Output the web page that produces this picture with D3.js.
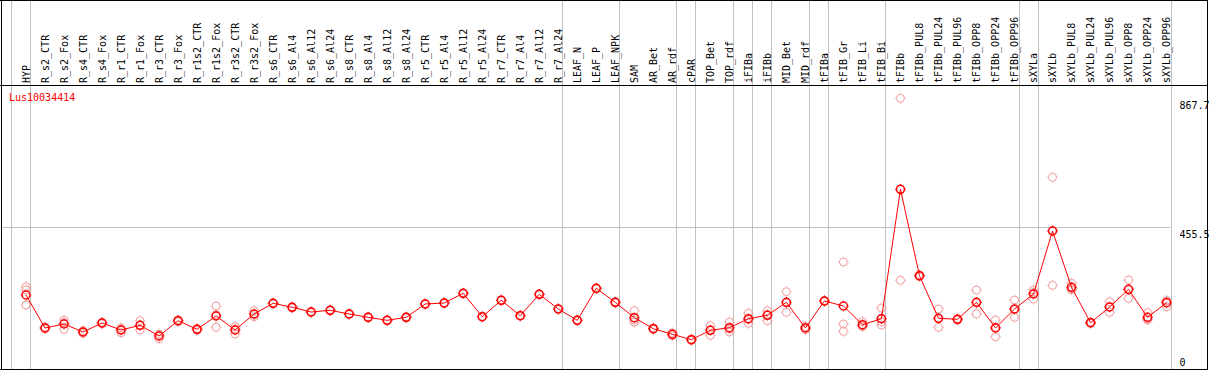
<!DOCTYPE html>
<html><head><meta charset="utf-8">
<script src="https://cdn.jsdelivr.net/npm/d3@7"></script>
<style>body{margin:0;background:#fff;}svg{display:block;}text{font-family:"DejaVu Sans Mono",monospace;font-size:10px;}</style>
</head><body>
<script>
const title = "Lus10034414";
const categories = ["HYP","R_s2_CTR","R_s2_Fox","R_s4_CTR","R_s4_Fox","R_r1_CTR","R_r1_Fox","R_r3_CTR","R_r3_Fox","R_r1s2_CTR","R_r1s2_Fox","R_r3s2_CTR","R_r3s2_Fox","R_s6_CTR","R_s6_Al4","R_s6_Al12","R_s6_Al24","R_s8_CTR","R_s8_Al4","R_s8_Al12","R_s8_Al24","R_r5_CTR","R_r5_Al4","R_r5_Al12","R_r5_Al24","R_r7_CTR","R_r7_Al4","R_r7_Al12","R_r7_Al24","LEAF_N","LEAF_P","LEAF_NPK","SAM","AR_Bet","AR_rdf","cPAR","TOP_Bet","TOP_rdf","iFIBa","iFIBb","MID_Bet","MID_rdf","tFIBa","tFIB_Gr","tFIB_Li","tFIB_Bi","tFIBb","tFIBb_PUL8","tFIBb_PUL24","tFIBb_PUL96","tFIBb_OPP8","tFIBb_OPP24","tFIBb_OPP96","sXYLa","sXYLb","sXYLb_PUL8","sXYLb_PUL24","sXYLb_PUL96","sXYLb_OPP8","sXYLb_OPP24","sXYLb_OPP96"];
const groupSizes = [1,28,3,3,1,2,1,1,2,1,3,7,1,7];
const means = [238.4,132.8,145.6,120,148.8,126.4,141.4,107.2,156.1,128.6,171.2,126.4,177.6,211.8,199,184,189.4,177.6,167,157.4,167,209.6,212.8,243.8,168.9,221.4,172.1,240.6,193.6,157.4,259.8,215,165.7,130.5,112.6,95.3,125.4,133.7,162.5,173.4,215,132.8,219.2,203.2,143.3,162.5,576.6,300.1,163.8,160.6,215,132.8,193.6,241.6,443.1,263,149.7,200,256.6,167,213.7];
const replicates = [
 [264.9,254.4,206.4],[130,133,136],[158.4,128.6,149.8],[115.8,120,124],[146,149,151],
 [117.7,128,133],[156.1,126.4,141.7],[113.6,98.5,109],[153,156,159],[126,129,131],
 [203.2,135,175.4],[137,113.6,128.6],[188.1,168.9,175.8],[210,212,213],[197,199,201],
 [182,184,186],[188,189,191],[176,178,179],[165,167,169],[156,157,159],
 [165,167,169],[208,210,211],[211,213,214],[242,244,245],[167,169,170],
 [220,221,223],[170,172,174],[239,241,242],[192,194,195],[156,157,159],
 [258,260,261],[213,215,217],[188.1,151,158],[128,131,133],[117.7,108.1,112],
 [93,95,98],[140.1,109.4,126.7],[152,120,129],[179.8,147.8,160],[188.1,156.1,176],
 [248.9,183,213],[128,133,137],[217,219,221],[344,145.6,122.2],[152.9,140.1,137],
 [196.8,152.9,142.2],[867.7,285.4,576.7],[297,300,303],[193.6,135,162.8],[158,161,163],
 [254.4,177.6,213],[158.4,104.9,135.1],[222.4,167,191.4],[254.4,224.6,245.8],[615,269.4,444.9],
 [275.8,254.4,258.8],[147,150,152],[216.9,183,200],[286.4,227.8,255.6],[181.7,158.4,161],
 [220.1,200.9,220]
];
const yTicks = [0,455.5,867.7];
const yMax = 867.7;

const W = 1209, H = 370;
const svg = d3.select("body").append("svg").attr("width",W).attr("height",H);

const x = d3.scalePoint().domain(categories).range([26,1166.6]);
const step = x.step();
const y = d3.scaleLinear().domain([0,yMax]).range([369.5,98.3]);

const pale = "#f29a9a", red = "#ff0000";

// gridline
svg.append("line").attr("x1",1).attr("x2",1170).attr("y1",Math.round(y(455.5))+0.5).attr("y2",Math.round(y(455.5))+0.5)
  .attr("stroke","#c0c0c0").attr("stroke-width",1).attr("shape-rendering","crispEdges");

// group separators
let bounds=[-1]; let acc=-1; groupSizes.forEach(g=>{acc+=g;bounds.push(acc);});
svg.selectAll("line.sep").data(bounds).join("line").attr("class","sep")
  .attr("x1",d=>Math.round(26+step*d+4)+0.5).attr("x2",d=>Math.round(26+step*d+4)+0.5)
  .attr("y1",0).attr("y2",H).attr("stroke","#c0c0c0").attr("stroke-width",1).attr("shape-rendering","crispEdges");

// borders
const bl = (x1,y1,x2,y2)=>svg.append("line").attr("x1",x1).attr("y1",y1).attr("x2",x2).attr("y2",y2).attr("stroke","#000").attr("stroke-width",1).attr("shape-rendering","crispEdges");
bl(0,0.5,1208,0.5); bl(0,85.5,1208,85.5); bl(0,369.5,1208,369.5); bl(1.5,0,1.5,370); bl(1207.5,0,1207.5,370);

// category labels
svg.selectAll("text.cat").data(categories).join("text").attr("class","cat")
  .attr("transform",d=>`translate(${x(d)+3.5},83) rotate(-90)`).attr("fill","#000").text(d=>d);

// title
svg.append("text").attr("x",9).attr("y",101).attr("fill",red).text(title);

// y labels
svg.selectAll("text.yl").data(yTicks).join("text").attr("class","yl")
  .attr("x",1179.5).attr("y",d=>Math.min(y(d)+11,366)).attr("fill","#000").text(d=>d===0?"0":d.toFixed(1));

function marker(g, cx, cy, color, sw){
  g.append("circle").attr("cx",cx).attr("cy",cy).attr("r",4).attr("fill","none").attr("stroke",color).attr("stroke-width",sw);
  [[0,-1],[0,1],[-1,0],[1,0]].forEach(([dx,dy])=>{
    g.append("line").attr("x1",cx+dx*4.5).attr("y1",cy+dy*4.5).attr("x2",cx+dx*5.3).attr("y2",cy+dy*5.3).attr("stroke",color).attr("stroke-width",1);
  });
}
// replicates
const gp = svg.append("g");
categories.forEach((c,i)=>replicates[i].forEach(v=>marker(gp,x(c),y(v),pale,1)));
// mean line
svg.append("path").datum(means).attr("fill","none").attr("stroke",red).attr("stroke-width",1)
  .attr("d",d3.line().x((d,i)=>x(categories[i])).y(d=>y(d)));
const gm = svg.append("g");
categories.forEach((c,i)=>marker(gm,x(c),y(means[i]),red,1.5));
</script>
</body></html>
